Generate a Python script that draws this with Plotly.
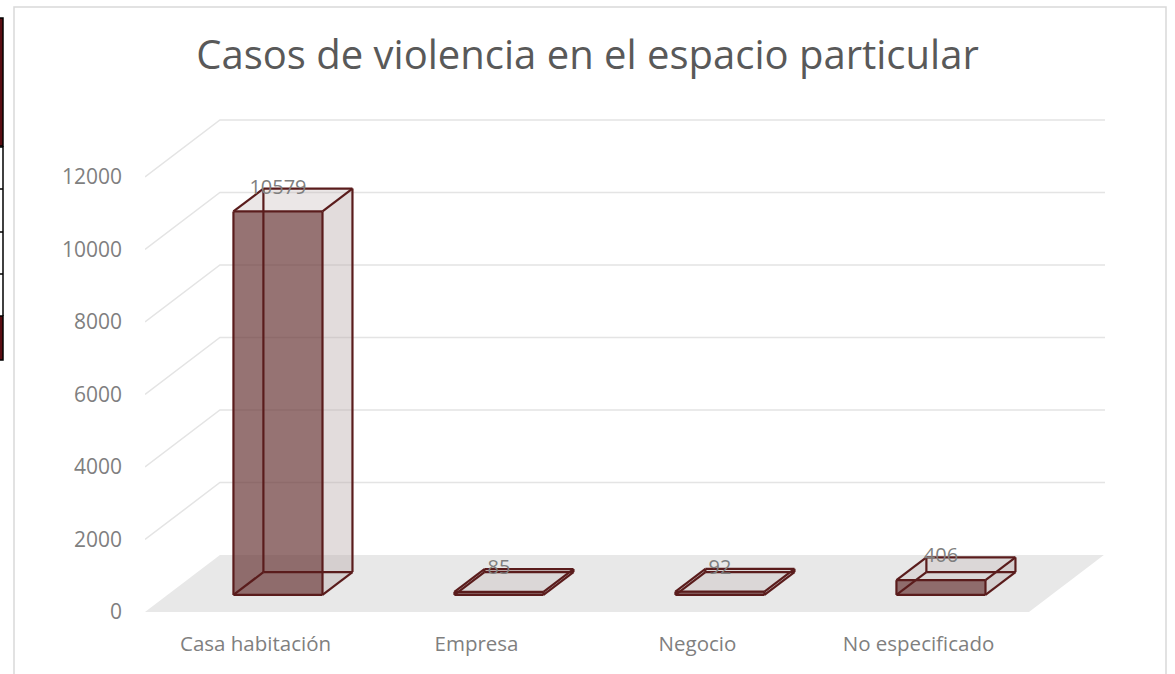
import plotly.graph_objects as go

# ---------------- data ----------------
categories = ["Casa habitación", "Empresa", "Negocio", "No especificado"]
values = [10579, 85, 92, 406]
y_ticks = [0, 2000, 4000, 6000, 8000, 10000, 12000]
title_text = "Casos de violencia en el espacio particular"

# ---------------- 3D styling geometry ----------------
DEPTH_DX = 0.339      # x-units of full depth
DEPTH_DY = 1572       # value-units of full depth
FRONT_FRAC, BACK_FRAC = 0.3, 0.7
BAR_W = 0.403
X_RANGE = [-0.5, 3.5 + DEPTH_DX + 0.005]
Y_RANGE = [0, 13600]

W, H = 1175, 674
L, R, T, B = 145, 70, 119, 62
PW, PH = W - L - R, H - T - B

EDGE = "#5a1c1c"
GRID = "#e4e4e4"
FLOOR = "#e8e8e8"
LABEL = "#7f7f7f"
FONT = "Open Sans"

fig = go.Figure()

# floor
x0f, x1f = X_RANGE[0], 3.5
fig.add_trace(go.Scatter(
    x=[x0f, x0f + DEPTH_DX, x1f + DEPTH_DX, x1f, x0f],
    y=[0, DEPTH_DY, DEPTH_DY, 0, 0],
    fill="toself", fillcolor=FLOOR, line=dict(width=0), mode="lines",
    hoverinfo="skip", showlegend=False))

# gridlines (front-left diagonal + back wall horizontal)
gx, gy = [], []
for v in y_ticks[1:]:
    gx += [x0f, x0f + DEPTH_DX, X_RANGE[1], None]
    gy += [v, v + DEPTH_DY, v + DEPTH_DY, None]
fig.add_trace(go.Scatter(x=gx, y=gy, mode="lines", line=dict(color=GRID, width=1.5),
                         hoverinfo="skip", showlegend=False))

# bars
dx = (BACK_FRAC - FRONT_FRAC) * DEPTH_DX
dy = (BACK_FRAC - FRONT_FRAC) * DEPTH_DY
yb = FRONT_FRAC * DEPTH_DY
for i, v in enumerate(values):
    xc = i + FRONT_FRAC * DEPTH_DX
    a, b = xc - BAR_W / 2, xc + BAR_W / 2
    # right side face
    fig.add_trace(go.Scatter(
        x=[b, b + dx, b + dx, b, b], y=[yb, yb + dy, yb + dy + v, yb + v, yb],
        fill="toself", fillcolor="rgba(185,172,172,0.42)", line=dict(width=0),
        mode="lines", hoverinfo="skip", showlegend=False))
    # top face
    fig.add_trace(go.Scatter(
        x=[a, b, b + dx, a + dx, a], y=[yb + v, yb + v, yb + dy + v, yb + dy + v, yb + v],
        fill="toself", fillcolor="rgba(190,175,175,0.30)", line=dict(width=0),
        mode="lines", hoverinfo="skip", showlegend=False))
    # front face
    fig.add_trace(go.Scatter(
        x=[a, b, b, a, a], y=[yb, yb, yb + v, yb + v, yb],
        fill="toself", fillcolor="rgba(105,55,55,0.70)", line=dict(width=0),
        mode="lines", hoverinfo="skip", showlegend=False))
    # all 12 edges
    ex, ey = [], []
    fb = [(a, yb), (b, yb), (b + dx, yb + dy), (a + dx, yb + dy)]
    ft = [(p[0], p[1] + v) for p in fb]
    for ring in (fb, ft):
        for k in range(4):
            ex += [ring[k][0], ring[(k + 1) % 4][0], None]
            ey += [ring[k][1], ring[(k + 1) % 4][1], None]
    for k in range(4):
        ex += [fb[k][0], ft[k][0], None]
        ey += [fb[k][1], ft[k][1], None]
    fig.add_trace(go.Scatter(x=ex, y=ey, mode="lines", line=dict(color=EDGE, width=2.2),
                             hoverinfo="skip", showlegend=False))

# data labels
fig.add_trace(go.Scatter(
    x=[i + FRONT_FRAC * DEPTH_DX for i in range(len(values))],
    y=[v + BACK_FRAC * DEPTH_DY for v in values],
    text=[str(v) for v in values], mode="text", textposition="middle center",
    textfont=dict(family=FONT, size=20, color=LABEL),
    hoverinfo="skip", showlegend=False, cliponaxis=False))


def px_x(p):
    return (p - L) / PW


def px_y(p):
    return (H - B - p) / PH


shapes = []
# chart border
shapes.append(dict(type="rect", xref="paper", yref="paper",
                   x0=px_x(14), x1=px_x(1166), y0=px_y(700), y1=px_y(7),
                   line=dict(color="#d9d9d9", width=1.5), fillcolor="rgba(0,0,0,0)", layer="below"))
# left edge fragment of a neighbouring table
shapes.append(dict(type="rect", xref="paper", yref="paper",
                   x0=px_x(-3), x1=px_x(3), y0=px_y(146), y1=px_y(18),
                   line=dict(color="black", width=1.5), fillcolor="#5a0d12"))
shapes.append(dict(type="rect", xref="paper", yref="paper",
                   x0=px_x(-3), x1=px_x(3), y0=px_y(360), y1=px_y(316),
                   line=dict(color="black", width=1.5), fillcolor="#5a0d12"))
for yy in [147, 189, 232, 274]:
    shapes.append(dict(type="line", xref="paper", yref="paper",
                       x0=px_x(-3), x1=px_x(3), y0=px_y(yy), y1=px_y(yy),
                       line=dict(color="black", width=1.5)))
shapes.append(dict(type="line", xref="paper", yref="paper",
                   x0=px_x(3), x1=px_x(3), y0=px_y(146), y1=px_y(316),
                   line=dict(color="black", width=1.5)))

fig.update_layout(
    width=W, height=H,
    margin=dict(l=L, r=R, t=T, b=B),
    paper_bgcolor="white", plot_bgcolor="white",
    title=dict(text=title_text, x=0.5, xref="container", xanchor="center",
               y=1 - 55 / H, yanchor="middle",
               font=dict(family=FONT, size=40, color="#595959")),
    xaxis=dict(range=X_RANGE, tickvals=list(range(len(categories))), ticktext=categories,
               showgrid=False, zeroline=False, showline=False, ticks="",
               tickfont=dict(family=FONT, size=20.5, color=LABEL), ticklabelstandoff=17,
               fixedrange=True),
    yaxis=dict(range=Y_RANGE, tickvals=y_ticks, ticktext=[str(t) for t in y_ticks],
               showgrid=False, zeroline=False, showline=False, ticks="",
               tickfont=dict(family=FONT, size=21, color=LABEL), ticklabelstandoff=22,
               fixedrange=True),
    shapes=shapes,
    showlegend=False,
)

fig.write_html("out.html", config={"displayModeBar": False},
               post_script="document.body.style.margin='0';")
